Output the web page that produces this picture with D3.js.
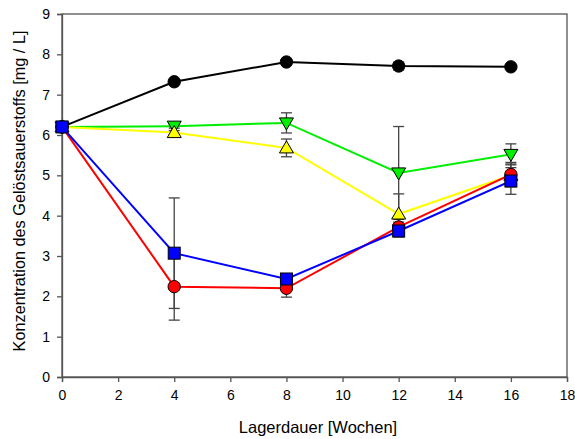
<!DOCTYPE html>
<html><head><meta charset="utf-8">
<script src="https://cdn.jsdelivr.net/npm/d3@7"></script>
<style>body{margin:0;background:#fff}svg{display:block}text{font-family:"Liberation Sans",Arial,sans-serif}</style>
</head><body><svg id="c" width="575" height="439"></svg>
<script>
const weeks = [0, 4, 8, 12, 16];
const blackVals = [6.2, 7.32, 7.81, 7.71, 7.69];
const blackErr = [0, 0.05, 0.05, 0.1, 0.05];
const greenVals = [6.2, 6.22, 6.3, 5.06, 5.52];
const greenErr = [0, 0.05, 0.25, 1.15, 0.26];
const yellowVals = [6.2, 6.06, 5.68, 4.04, 5.0];
const yellowErr = [0, 0.05, 0.22, 0.5, 0.28];
const redVals = [6.2, 2.24, 2.2, 3.72, 5.02];
const redErr = [0, 0.83, 0.22, 0.12, 0.3];
const blueVals = [6.2, 3.07, 2.43, 3.62, 4.86];
const blueErr = [0, 1.37, 0.1, 0.15, 0.33];
const xTicks = [0, 2, 4, 6, 8, 10, 12, 14, 16, 18];
const yTicks = [0, 1, 2, 3, 4, 5, 6, 7, 8, 9];

const series = [
  {vals: blackVals, err: blackErr, color: "#000000", fill: "#000000", sym: "circle"},
  {vals: greenVals, err: greenErr, color: "#00ee00", fill: "#00ee00", sym: "down"},
  {vals: yellowVals, err: yellowErr, color: "#ffff00", fill: "#ffff00", sym: "up"},
  {vals: redVals, err: redErr, color: "#ff0000", fill: "#ff0000", sym: "circle"},
  {vals: blueVals, err: blueErr, color: "#0000ff", fill: "#0000ff", sym: "square"}
];

const svg = d3.select("#c");
const L = 62, R = 567, T = 14, B = 377;
const x = d3.scaleLinear().domain([0, 18]).range([L, R]);
const y = d3.scaleLinear().domain([0, 9]).range([B, T]);

// frame
svg.append("rect").attr("x", L).attr("y", T).attr("width", R - L).attr("height", B - T)
  .attr("fill", "none").attr("stroke", "#555").attr("stroke-width", 1.3);

const xa = svg.append("g").attr("transform", `translate(0,${B})`)
  .call(d3.axisBottom(x).tickValues(xTicks).tickSize(5).tickPadding(8).tickFormat(d3.format("d")));
const ya = svg.append("g").attr("transform", `translate(${L},0)`)
  .call(d3.axisLeft(y).tickValues(yTicks).tickSize(5).tickPadding(7).tickFormat(d3.format("d")));
[xa, ya].forEach(a => {
  a.select(".domain").attr("stroke", "#555").attr("stroke-width", 1.3);
  a.selectAll(".tick line").attr("stroke", "#555").attr("stroke-width", 1.3);
  a.selectAll("text").attr("font-size", 14).attr("fill", "#000").attr("font-family", "Liberation Sans, Arial, sans-serif");
});

svg.append("text").attr("x", 318).attr("y", 433).attr("text-anchor", "middle")
  .attr("font-size", 16.5).text("Lagerdauer [Wochen]");
svg.append("text").attr("transform", `translate(25,191) rotate(-90)`)
  .attr("text-anchor", "middle").attr("font-size", 16.3)
  .text("Konzentration des Gelöstsauerstoffs [mg / L]");

const line = d3.line().x(d => x(d[0])).y(d => y(d[1]));

// lines
series.forEach(s => {
  svg.append("path").datum(weeks.map((w, i) => [w, s.vals[i]]))
    .attr("d", line).attr("fill", "none").attr("stroke", s.color).attr("stroke-width", 2);
});
// error bars
series.forEach(s => {
  weeks.forEach((w, i) => {
    if (!s.err[i]) return;
    const cx = x(w), y1 = y(s.vals[i] + s.err[i]), y2 = y(s.vals[i] - s.err[i]);
    const g = svg.append("g").attr("stroke", "#444").attr("stroke-width", 1.3);
    g.append("line").attr("x1", cx).attr("x2", cx).attr("y1", y1).attr("y2", y2);
    g.append("line").attr("x1", cx - 5.5).attr("x2", cx + 5.5).attr("y1", y1).attr("y2", y1);
    g.append("line").attr("x1", cx - 5.5).attr("x2", cx + 5.5).attr("y1", y2).attr("y2", y2);
  });
});
// markers
series.forEach(s => {
  weeks.forEach((w, i) => {
    const cx = x(w), cy = y(s.vals[i]);
    let m;
    if (s.sym === "circle") {
      m = svg.append("circle").attr("cx", cx).attr("cy", cy).attr("r", 6.2);
    } else if (s.sym === "square") {
      m = svg.append("rect").attr("x", cx - 6).attr("y", cy - 6).attr("width", 12).attr("height", 12);
    } else if (s.sym === "down") {
      m = svg.append("path").attr("d", `M${cx - 7},${cy - 5}L${cx + 7},${cy - 5}L${cx},${cy + 7}Z`);
    } else {
      m = svg.append("path").attr("d", `M${cx - 7},${cy + 5}L${cx + 7},${cy + 5}L${cx},${cy - 7}Z`);
    }
    m.attr("fill", s.fill).attr("stroke", "#000").attr("stroke-width", 1);
  });
});
</script></body></html>
